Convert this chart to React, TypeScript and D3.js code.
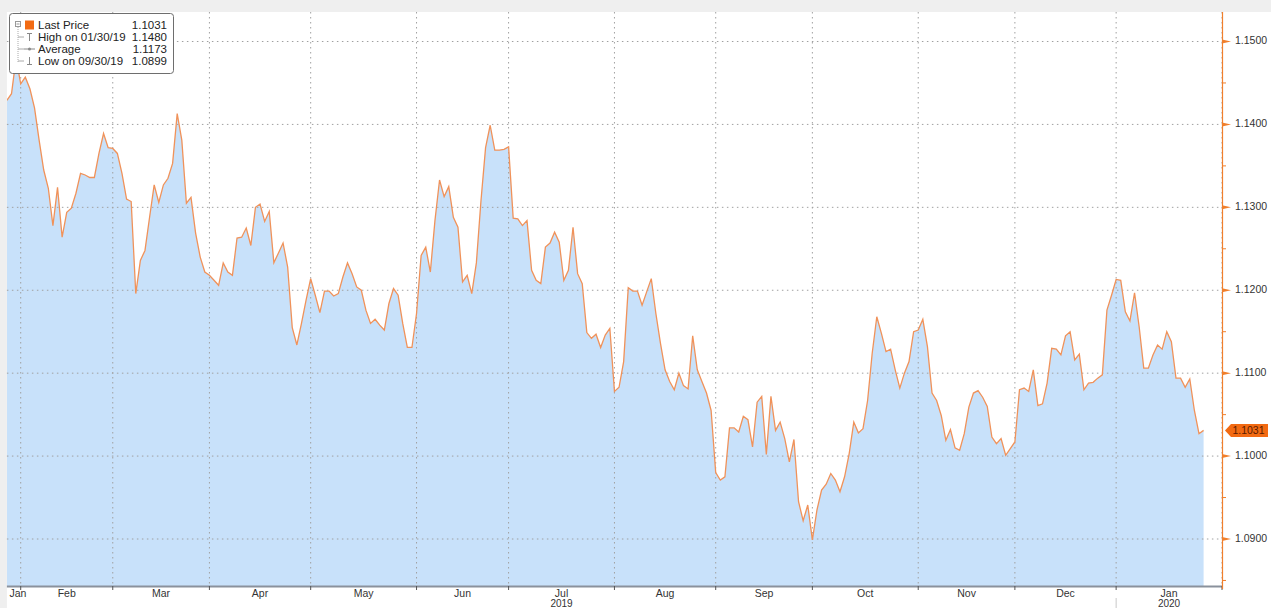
import React from "react";
import * as d3 from "d3";

const width = 1271;
const height = 608;

// EUR/USD daily closes, one per weekday starting Mon 28 Jan 2019
const startDate = new Date(2019, 0, 28);
const axisEndDate = new Date(2020, 0, 31);

const prices = [
  1.1429, 1.1437, 1.148, 1.1449, 1.1457, 1.1443, 1.142, 1.1381, 1.1345, 1.1323,
  1.1278, 1.1324, 1.1264, 1.1294, 1.1299, 1.1317, 1.1341, 1.1339, 1.1336, 1.1336,
  1.1365, 1.1389, 1.1372, 1.1371, 1.1365, 1.1341, 1.131, 1.1307, 1.1196, 1.1236,
  1.1248, 1.1288, 1.1327, 1.1306, 1.1327, 1.1335, 1.1353, 1.1413, 1.1381, 1.1305,
  1.1312, 1.1269, 1.124, 1.1222, 1.1218, 1.1212, 1.1206, 1.1233, 1.1222, 1.1218,
  1.1263, 1.1264, 1.1275, 1.1254, 1.13, 1.1304, 1.1283, 1.1295, 1.1233, 1.1245,
  1.1257, 1.1228, 1.1155, 1.1134, 1.116, 1.1188, 1.1214, 1.1194, 1.1173, 1.1199,
  1.1199, 1.1193, 1.1196, 1.1216, 1.1233, 1.122, 1.1204, 1.12, 1.1176, 1.116,
  1.1165, 1.1158, 1.1152, 1.1184, 1.1202, 1.1194, 1.116, 1.1131, 1.1131, 1.1172,
  1.1242, 1.1252, 1.1222, 1.1284, 1.1333, 1.1313, 1.1325, 1.1288, 1.1276, 1.121,
  1.1218, 1.1196, 1.1233, 1.1308, 1.1372, 1.1399, 1.1369, 1.1369, 1.137, 1.1373,
  1.1287, 1.1286, 1.1278, 1.1284, 1.1224, 1.1212, 1.1208, 1.1252, 1.1257, 1.127,
  1.1258, 1.1212, 1.1224, 1.1276, 1.122, 1.1208, 1.1149, 1.1142, 1.1147, 1.1131,
  1.1146, 1.1154, 1.1078, 1.1083, 1.1114, 1.1203, 1.1199, 1.1199, 1.1182, 1.1198,
  1.1214, 1.1172, 1.1136, 1.1104, 1.109, 1.108, 1.11, 1.1085, 1.1081, 1.1145,
  1.1104, 1.109, 1.1076, 1.1055, 1.098, 1.0971, 1.0975, 1.1034, 1.1034, 1.1029,
  1.1048, 1.1044, 1.1011, 1.1065, 1.1072, 1.1002, 1.1072, 1.1031, 1.1041, 1.1021,
  1.0993, 1.102, 1.0945, 1.0922, 1.0941, 1.0899, 1.0935, 1.0959, 1.0966, 1.0979,
  1.0971, 1.0957, 1.0975, 1.1003, 1.1041, 1.1028, 1.1033, 1.1067, 1.1124, 1.1168,
  1.1148, 1.1126, 1.1129, 1.1104, 1.1082, 1.11, 1.1114, 1.115, 1.1152, 1.1165,
  1.1132, 1.1076, 1.1067, 1.1049, 1.1019, 1.1032, 1.101, 1.1007, 1.1027, 1.1059,
  1.1076, 1.1079, 1.1071, 1.106, 1.1023, 1.1015, 1.1021, 1.1001, 1.1009, 1.1017,
  1.108, 1.1082, 1.1078, 1.1104, 1.1061, 1.1063, 1.1088, 1.113, 1.1129, 1.1122,
  1.1145, 1.115, 1.1116, 1.1123, 1.108, 1.1088, 1.1089, 1.1094, 1.1098, 1.1176,
  1.1194, 1.1213, 1.1212, 1.1174, 1.1163, 1.1197, 1.1156, 1.1106, 1.1106, 1.1122,
  1.1134, 1.1129, 1.115, 1.1138, 1.1094, 1.1094, 1.1083, 1.1093, 1.1055, 1.1027,
  1.1031,
];

const yTicks = [1.09, 1.1, 1.11, 1.12, 1.13, 1.14, 1.15];
const yMinorTicks = [1.085, 1.095, 1.105, 1.115, 1.125, 1.135, 1.145];
const monthNames = ["Jan", "Feb", "Mar", "Apr", "May", "Jun", "Jul", "Aug", "Sep", "Oct", "Nov", "Dec"];
const yearLabels = [
  { year: "2019", month: "Jul" },
  { year: "2020", month: "Jan" },
];

const lastPrice = 1.1031;
const legendRows = [
  { label: "Last Price", value: "1.1031" },
  { label: "High on 01/30/19", value: "1.1480" },
  { label: "Average", value: "1.1173" },
  { label: "Low on 09/30/19", value: "1.0899" },
];

const plotLeft = 6.9;
const plotRight = 1222;
const plotTop = 12;
const plotBottom = 586;

const font = "'Liberation Sans', Arial, sans-serif";
const lineColor = "#f0925a";
const fillColor = "#c8e1fa";
const axisOrange = "#f07f2c";
const gridColor = "#a0a0a0";

const weekdays = d3
  .timeDay.range(startDate, d3.timeDay.offset(axisEndDate, 1))
  .filter((d) => d.getDay() !== 0 && d.getDay() !== 6);

const x = d3.scaleLinear().domain([0, weekdays.length - 1]).range([plotLeft, plotRight]);
const y = d3.scaleLinear().domain([1.09, 1.15]).range([539, 41.5]);

// gridlines sit on the last weekday of each month
const boundaries: number[] = [];
weekdays.forEach((d, i) => {
  if (i > 0 && d.getMonth() !== weekdays[i - 1].getMonth()) boundaries.push(i - 1);
});
boundaries.push(weekdays.length - 1);

const segments = [0, ...boundaries].slice(0, -1).map((b, k) => {
  const end = boundaries[k];
  const d = weekdays[end];
  return { start: b, end, name: monthNames[d.getMonth()], year: d.getFullYear() };
});

const line = d3
  .line<number>()
  .x((_, i) => x(i))
  .y((d) => y(d));

const area = d3
  .area<number>()
  .x((_, i) => x(i))
  .y0(plotBottom)
  .y1((d) => y(d));

const fmt = d3.format(".4f");

export default function App() {
  const lastY = y(lastPrice);
  return (
    <div style={{ position: "absolute", left: 0, top: 0 }}>
      <svg width={width} height={height} style={{ display: "block" }}>
        <rect width={width} height={height} fill="#ffffff" />
        <rect width={width} height={plotTop} fill="#efefef" />
        <rect width={plotLeft} height={height} fill="#efefef" />

        <defs>
          <clipPath id="plot">
            <rect x={plotLeft} y={plotTop} width={plotRight - plotLeft} height={plotBottom - plotTop} />
          </clipPath>
        </defs>

        {/* area under price */}
        <path d={area(prices) || ""} fill={fillColor} clipPath="url(#plot)" />

        {/* grid */}
        {yTicks.map((t) => (
          <line
            key={"gy" + t}
            x1={plotLeft}
            x2={plotRight}
            y1={y(t)}
            y2={y(t)}
            stroke={gridColor}
            strokeWidth={1}
            strokeDasharray="1.5,3.5"
          />
        ))}
        {boundaries.map((b) => (
          <line
            key={"gx" + b}
            x1={x(b)}
            x2={x(b)}
            y1={plotTop}
            y2={plotBottom}
            stroke={gridColor}
            strokeWidth={1}
            strokeDasharray="1.5,3.5"
          />
        ))}

        {/* price line */}
        <path d={line(prices) || ""} fill="none" stroke={lineColor} strokeWidth={1.3} clipPath="url(#plot)" />

        {/* x axis */}
        <line x1={plotLeft} x2={plotRight} y1={plotBottom + 0.5} y2={plotBottom + 0.5} stroke="#8a919c" strokeWidth={2} />
        {boundaries.map((b) => (
          <line key={"tx" + b} x1={x(b)} x2={x(b)} y1={plotBottom} y2={plotBottom + 4} stroke="#555" strokeWidth={1} />
        ))}
        {segments.map((s, k) => {
          const cx = Math.max((x(s.start) + x(s.end)) / 2, plotLeft + 11);
          return (
            <text
              key={"m" + k}
              x={cx}
              y={597}
              textAnchor="middle"
              fontFamily={font}
              fontSize={10.5}
              fill="#333"
            >
              {s.name}
            </text>
          );
        })}
        {yearLabels.map((yl) => {
          const s = segments.find((sg) => sg.name === yl.month && String(sg.year) === yl.year);
          if (!s) return null;
          return (
            <text
              key={yl.year}
              x={(x(s.start) + x(s.end)) / 2}
              y={607}
              textAnchor="middle"
              fontFamily={font}
              fontSize={10}
              fill="#333"
            >
              {yl.year}
            </text>
          );
        })}
        {segments
          .filter((s, k) => k > 0 && s.name === "Jan")
          .map((s) => (
            <line key="yearsep" x1={x(s.start)} x2={x(s.start)} y1={598} y2={608} stroke="#c8c8c8" strokeWidth={1} />
          ))}

        {/* right value axis */}
        <line x1={plotRight + 0.5} x2={plotRight + 0.5} y1={plotTop} y2={plotBottom + 3} stroke={axisOrange} strokeWidth={1.2} />
        {yMinorTicks.map((t) => (
          <line key={"mn" + t} x1={plotRight} x2={plotRight + 4} y1={y(t)} y2={y(t)} stroke={axisOrange} strokeWidth={1} />
        ))}
        {yTicks.map((t) => (
          <g key={"yt" + t}>
            <path
              d={`M${plotRight},${y(t) - 2} L${plotRight + 9},${y(t)} L${plotRight},${y(t) + 2} Z`}
              fill={axisOrange}
            />
            <text
              x={1235}
              y={y(t)}
              dominantBaseline="middle"
              fontFamily={font}
              fontSize={10.5}
              fill="#333"
            >
              {fmt(t)}
            </text>
          </g>
        ))}

        {/* last price tag */}
        <path
          d={`M${plotRight + 3},${lastY} L${plotRight + 9},${lastY - 6.5} L${1268},${lastY - 6.5} L${1268},${lastY + 6.5} L${plotRight + 9},${lastY + 6.5} Z`}
          fill="#f26a12"
        />
        <text
          x={1248.5}
          y={lastY + 0.5}
          textAnchor="middle"
          dominantBaseline="middle"
          fontFamily={font}
          fontSize={10.5}
          fill="#5a1a00"
        >
          {fmt(lastPrice)}
        </text>

        {/* legend */}
        <g fontFamily={font} fontSize={11.5} fill="#222">
          <rect x={9.5} y={13.5} width={164} height={60} rx={3} fill="#ffffff" stroke="#6e6e6e" strokeWidth={1} />
          <rect x={15.5} y={21.5} width={5} height={5} fill="#fff" stroke="#999" strokeWidth={1} />
          <line x1={16.5} x2={19.5} y1={24} y2={24} stroke="#999" strokeWidth={1} />
          <line x1={18} x2={18} y1={27} y2={62} stroke="#aaa" strokeWidth={1} strokeDasharray="1,1" />
          {[1, 2, 3].map((r) => (
            <line key={"br" + r} x1={18} x2={24} y1={25 + r * 12} y2={25 + r * 12} stroke="#aaa" strokeWidth={1} />
          ))}
          <rect x={25} y={20.5} width={9} height={9} fill="#f26a12" />
          <path d="M27,33.5 H32 M29.5,33.5 V41" stroke="#888" strokeWidth={1} fill="none" />
          <path d="M24,49 H35" stroke="#888" strokeWidth={1} fill="none" />
          <circle cx={29.5} cy={49} r={1.5} fill="#888" />
          <path d="M29.5,57 V64.5 M27,64.5 H32" stroke="#888" strokeWidth={1} fill="none" />
          {legendRows.map((r, k) => (
            <g key={r.label}>
              <text x={38} y={29 + k * 12}>
                {r.label}
              </text>
              <text x={167} y={29 + k * 12} textAnchor="end">
                {r.value}
              </text>
            </g>
          ))}
        </g>
      </svg>
    </div>
  );
}
